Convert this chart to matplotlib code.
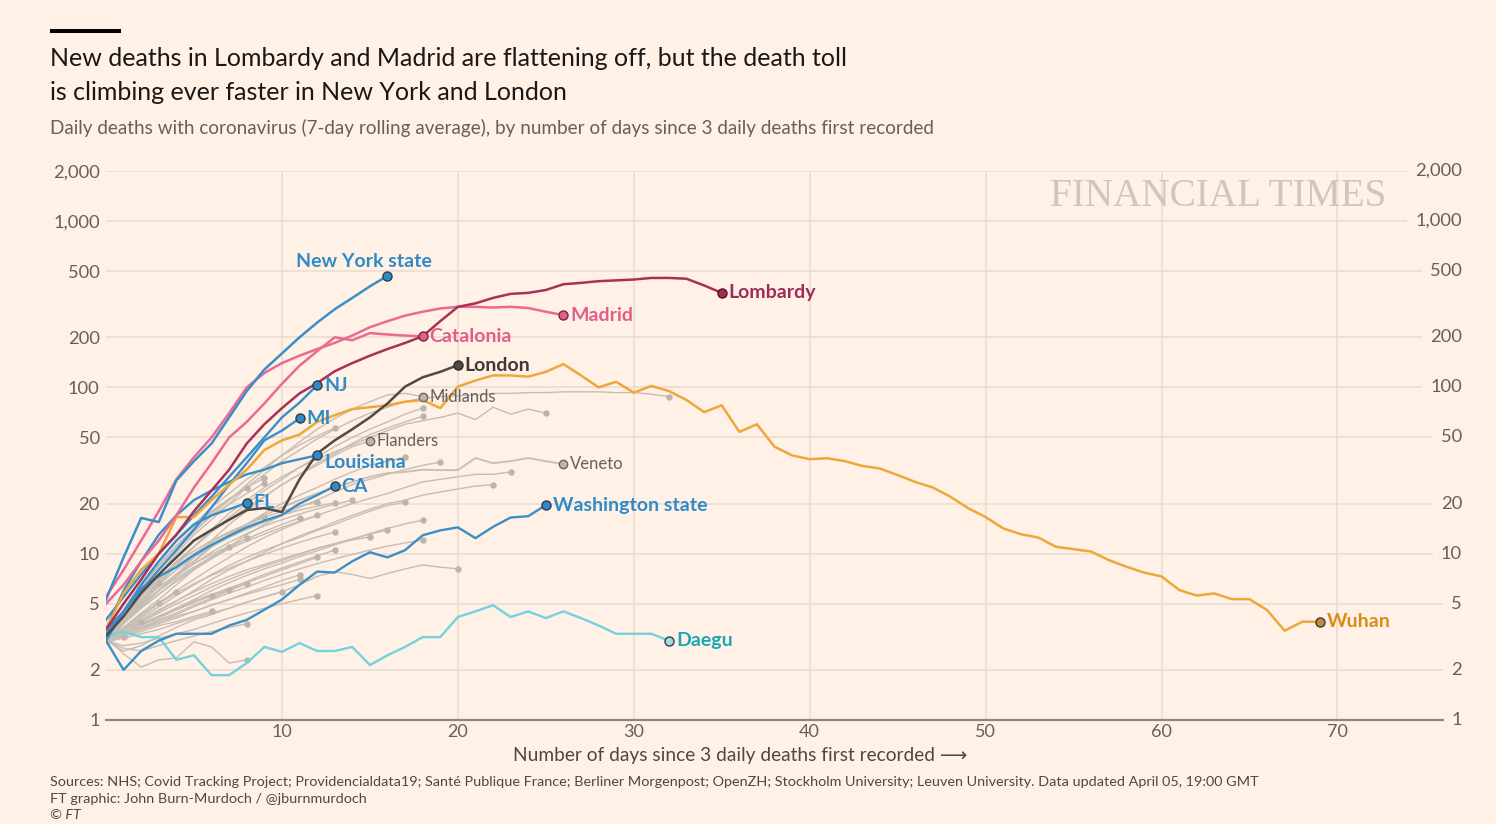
import matplotlib
matplotlib.use('Agg')
import matplotlib.pyplot as plt
from matplotlib.patches import Rectangle

# ---------------- data ----------------
new_york = [5.3, 9.5, 16.4, 15.5, 27.6, 36, 46, 66, 95, 128, 160, 200, 245, 295, 345, 405, 468]
new_jersey = [4, 5.5, 7.5, 10, 13, 17, 22, 29, 38, 50, 66, 81, 103]
michigan = [3.5, 4.5, 6, 8, 10.5, 14, 19, 26, 35, 48, 55, 65]
louisiana = [3.5, 6, 9, 13, 17, 21, 24, 27, 30, 32, 35, 37, 39]
california = [3.3, 4.5, 6.2, 7.3, 8.3, 9.8, 11.3, 12.8, 14.4, 15.8, 17.1, 20, 22.5, 25.5]
florida = [3, 4.5, 6.5, 9, 12, 15, 17, 18.5, 20.2]
washington = [3, 2.0, 2.6, 3.0, 3.3, 3.3, 3.3, 3.7, 4.0, 4.6, 5.3, 6.5, 7.8, 7.7, 9, 10.2,
              9.5, 10.5, 12.9, 13.8, 14.4, 12.4, 14.5, 16.5, 16.8, 19.6]
lombardy = [3.5, 5, 7, 10, 13, 18, 24, 32, 46, 60, 75, 92, 106, 125, 140, 155, 170, 185, 203,
            250, 305, 320, 345, 365, 370, 385, 417, 425, 435, 440, 445, 455, 455, 450, 410, 370]
madrid = [5.5, 8, 12, 18, 28, 38, 50, 70, 100, 122, 140, 155, 170, 185, 205, 230, 250, 270,
          285, 298, 305, 305, 302, 305, 300, 285, 272]
catalonia = [5, 6.5, 9, 12, 17, 25, 35, 50, 62, 80, 105, 135, 165, 200, 192, 212, 208, 205, 203]
london = [3.2, 4.2, 5.8, 7.5, 9.5, 12, 13.9, 16, 18.3, 18.8, 17.8, 28, 40, 48, 56, 66, 80,
          101, 115, 124, 136]
wuhan = [3.5, 5.8, 8, 10, 16.6, 16.6, 21, 26, 32, 42, 48, 52, 62, 68, 74, 76, 78, 82, 84, 75,
         101, 110, 118, 118, 116, 124, 138, 118, 100, 108, 93, 102, 95, 84, 71, 78, 54, 60, 44,
         39, 37, 37.5, 36, 33.7, 32.5, 29.7, 27, 25, 22, 18.8, 16.6, 14.2, 13.1, 12.5, 11,
         10.65, 10.3, 9.15, 8.35, 7.7, 7.3, 6.05, 5.6, 5.77, 5.33, 5.33, 4.58, 3.44, 3.9, 3.9]
daegu = [3.2, 3.4, 3.15, 3.15, 2.3, 2.45, 1.86, 1.86, 2.2, 2.75, 2.57, 2.9, 2.6, 2.6, 2.75,
         2.14, 2.45, 2.75, 3.15, 3.15, 4.16, 4.5, 4.9, 4.16, 4.5, 4.1, 4.5, 4.1, 3.7, 3.3, 3.3,
         3.3, 3.0]
midlands = [3, 4.2, 5.8, 8, 10.5, 13.5, 17, 21, 26, 32, 39, 47, 56, 65, 74, 82, 90, 92, 88]
flanders = [3, 4, 5.5, 7, 9, 11, 13.5, 16, 19, 22, 26, 30, 34, 39, 44, 47.6]
veneto = [3, 4, 5, 6, 7.5, 9, 11, 13, 15, 17, 19, 21, 23, 25, 27, 29, 30.5, 31, 32, 31.8, 31.8,
          37.6, 35, 36, 37.6, 36, 34.6]

other_regions = [
    [3, 4, 5.5, 7.5, 10, 13, 16, 20, 25, 30, 36, 42, 49, 56, 63, 70, 76, 82, 86, 88, 89, 90,
     92, 92, 93, 93, 94, 94, 94, 93, 93, 91, 88],
    [3, 4, 5, 6.5, 8.5, 11, 14, 17.5, 21, 25, 29, 33, 37, 41, 45, 50, 55, 60, 63, 66, 70, 64,
     76, 69, 74, 70],
    [3, 4, 5.2, 6.8, 8.8, 11, 13.5, 16.5, 20, 24, 28, 33, 38, 44, 50, 56, 62, 69, 75],
    [3, 3.8, 4.8, 6, 7.5, 9.5, 12, 15, 18, 22, 26, 30, 35, 40, 46, 52, 57, 62, 67],
    [3, 4.5, 6.5, 9, 12, 15, 19, 23, 28, 33, 39, 45, 51, 57],
    [3, 3.8, 4.8, 6, 7.5, 9, 11, 13, 15, 17.5, 20, 22.5, 25, 28, 31, 34, 36, 38],
    [3, 3.6, 4.4, 5.3, 6.5, 8, 9.5, 11, 13, 15, 17, 19, 21, 23.5, 26, 28, 30, 32, 34, 35.5],
    [3, 3.5, 4.2, 5, 6, 7, 8.2, 9.5, 11, 12.5, 14, 15.5, 17, 18.5, 20, 21.5, 23, 25, 27, 28,
     29, 30, 30, 31],
    [3, 3.4, 3.9, 4.5, 5.2, 6, 7, 8, 9, 10.2, 11.5, 12.8, 14, 15.5, 17, 18.5, 20, 21, 22.5,
     23.5, 24.5, 25.5, 26],
    [3, 3.5, 4.1, 4.8, 5.6, 6.5, 7.5, 8.5, 9.5, 10.5, 11.5, 12.5, 13.8, 15, 16.5, 18, 19.5, 20.4],
    [3, 3.3, 3.7, 4.2, 4.7, 5.3, 6, 6.7, 7.4, 8.1, 8.8, 9.6, 10.4, 11.3, 12.2, 13.2, 14.2, 15.1, 15.9],
    [3, 2.6, 2.8, 3.2, 3.6, 4, 4.3, 4.7, 5.1, 5.5, 5.9, 6.5, 7.3, 7.8, 7.5, 7.1, 7.6, 8.1, 8.55,
     8.3, 8.1],
    [3, 3.4, 3.9, 4.4, 5, 5.6, 6.3, 7, 7.7, 8.4, 9.1, 9.9, 10.7, 11.5, 12.3, 13.1, 13.9],
    [3, 3.5, 4, 4.6, 5.2, 5.9, 6.6, 7.3, 8, 8.6, 9.3, 10, 10.8, 11.5, 12.1, 12.6],
    [3, 3.2, 3.5, 3.9, 4.3, 4.8, 5.3, 5.8, 6.3, 6.9, 7.5, 8.1, 8.7, 9.3, 9.9, 10.5, 11.1, 11.6, 12.1],
    [3, 3.8, 4.8, 6, 7.3, 8.7, 10.2, 11.7, 13.2, 14.7, 16, 17.3, 18.6, 19.8, 21],
    [3, 4, 5.2, 6.5, 8, 9.5, 11, 12.5, 14, 15.5, 17, 18.3, 19.3, 20.2],
    [3, 4.2, 5.6, 7.2, 8.8, 10.4, 12, 13.5, 15, 16.5, 18, 19.3, 20.4],
    [3, 3.6, 4.3, 5, 5.8, 6.6, 7.4, 8.2, 9, 9.9, 10.8, 11.7, 12.6, 13.5],
    [3, 3.9, 4.9, 6, 7.1, 8.3, 9.5, 10.7, 11.9, 13.1, 14.4, 15.7, 17],
    [3, 4, 5.1, 6.3, 7.5, 8.7, 9.9, 11.1, 12.3, 13.6, 15, 16.4],
    [3, 3.4, 3.8, 4.2, 4.7, 5.2, 5.7, 6.2, 6.8, 7.5, 8.2, 8.9, 9.7, 10.5],
    [3, 3.3, 3.7, 4.1, 4.6, 5.1, 5.6, 6.1, 6.7, 7.3, 8, 8.7, 9.5],
    [3, 3.2, 3.5, 3.8, 4.1, 4.5, 4.9, 5.3, 5.8, 6.3, 6.9, 7.45],
    [3, 3.1, 3.3, 3.5, 3.8, 4.1, 4.4, 4.7, 5.1, 5.5, 5.9],
    [3, 2.8, 2.9, 3.1, 3.3, 3.5, 3.8, 4.1, 4.4, 4.7, 5, 5.3, 5.6],
    [3, 4, 5.3, 6.8, 8.4, 10, 11.7, 13.4, 15, 16.6],
    [3, 4.4, 6.2, 8.4, 11, 13.8, 16.8, 19.8, 23, 26.6],
    [3, 4.6, 6.6, 9, 11.8, 14.8, 18, 21.4, 25, 28.5],
    [3, 4.5, 6.4, 8.6, 11.2, 14.2, 17.6, 21.2, 25],
    [3, 3.8, 4.7, 5.7, 6.8, 8, 9.3, 10.8, 12.4],
    [3, 3.8, 4.7, 5.7, 6.9, 8.2, 9.6, 11],
    [3, 3.3, 3.6, 4, 4.4, 4.9, 5.4, 6, 6.6],
    [3, 2.7, 2.6, 2.8, 3, 3.2, 3.4, 3.6, 3.8],
    [3, 3.4, 3.8, 4.2, 4.6, 5.1, 5.6, 6.05],
    [3, 3.4, 3.8, 4.2, 4.6, 5.1, 5.6],
    [3, 3.2, 3.4, 3.7, 3.9, 4.2, 4.5],
    [3, 3.6, 4.3, 5.1, 5.9],
    [3, 4, 5.2, 6.65],
    [3, 3.6, 4.3, 5.05],
    [3, 4.3, 6.05],
    [3, 3.4, 3.9],
    [3.15, 2.5, 2.08, 2.3, 2.36, 2.95, 2.75, 2.2, 2.3],
    [3, 3.3, 3.6, 3.9, 4.2, 4.5, 4.9, 5.3, 5.7, 6.1, 6.5, 7],
    [2.9, 3.15],
]

y_ticks = [1, 2, 5, 10, 20, 50, 100, 200, 500, 1000, 2000]
y_tick_labels = ['1', '2', '5', '10', '20', '50', '100', '200', '500', '1,000', '2,000']
x_ticks = [10, 20, 30, 40, 50, 60, 70]

# ---------------- style ----------------
BG = '#FFF1E5'
GRID = '#E8DCD1'
TICK = '#66605C'
GRAY_LINE = '#C6BDB4'
GRAY_DOT = '#BDB4AB'
BLUE = '#3A8FC9'
BLUE_TXT = '#2E8BC8'
PINK = '#EA6A92'
PINK_TXT = '#E35D89'
CRIMSON = '#A8315A'
CRIMSON_TXT = '#A02C55'
LONDON = '#4F4A46'
ORANGE = '#EEA73B'
ORANGE_TXT = '#D98C18'
CYAN = '#72D3DE'
CYAN_TXT = '#1CA7B7'
EDGE = '#2f3b45'
FONT = ['Lato', 'DejaVu Sans']
LBL = 14

plt.rcParams['font.family'] = FONT

W, H = 1496, 824
fig = plt.figure(figsize=(W / 100, H / 100), dpi=100, facecolor=BG)
ax_left, ax_right, ax_top, ax_bottom = 106, 1443, 171, 720
ax = fig.add_axes([ax_left / W, 1 - ax_bottom / H, (ax_right - ax_left) / W, (ax_bottom - ax_top) / H])
ax.set_facecolor(BG)
ax.set_yscale('log')
ax.set_xlim(0, 76)
ax.set_ylim(1, 2000)

for s in ['top', 'right', 'left']:
    ax.spines[s].set_visible(False)
ax.spines['bottom'].set_color('#8E867F')
ax.spines['bottom'].set_linewidth(1.6)
ax.spines['bottom'].set_zorder(5)

ax.set_yticks(y_ticks)
ax.set_yticklabels(y_tick_labels)
ax.yaxis.set_minor_locator(matplotlib.ticker.NullLocator())
ax.set_xticks(x_ticks)
ax.set_xticklabels([str(t) for t in x_ticks])
ax.tick_params(axis='y', length=0, pad=4.5, labelsize=13.2, labelcolor=TICK)
ax.tick_params(axis='x', length=0, pad=3, labelsize=13, labelcolor=TICK)
ax.grid(True, which='major', color=GRID, linewidth=1.1)
ax.set_axisbelow(True)

# right-hand tick labels
for v, lab in zip(y_ticks, y_tick_labels):
    ax.text((1462 - ax_left) / (ax_right - ax_left), v, lab, transform=ax.get_yaxis_transform(),
            ha='right', va='center', fontsize=13.2, color=TICK, zorder=4, clip_on=False,
            bbox=dict(boxstyle='square,pad=0.45', fc=BG, ec='none'))

# gray background regions
for vals in other_regions:
    days = list(range(len(vals)))
    ax.plot(days, vals, color=GRAY_LINE, lw=1.0, zorder=2, solid_capstyle='round')
    ax.plot(days[-1], vals[-1], 'o', ms=4.6, color=GRAY_DOT, mec='none', zorder=2.1)

def labelled(vals, color, lw, label, txtcolor, weight, size, mfc, mec, ms, dx=5, dy=0,
             ha='left', z=3):
    days = list(range(len(vals)))
    ax.plot(days, vals, color=color, lw=lw, zorder=z, solid_joinstyle='round')
    ax.plot(days[-1], vals[-1], 'o', ms=ms, mfc=mfc, mec=mec, mew=1.0, zorder=z + 0.5)
    ax.annotate(label, (days[-1], vals[-1]), xytext=(dx, dy), textcoords='offset points',
                ha=ha, va='center', color=txtcolor, fontsize=size, fontweight=weight,
                zorder=z + 1)

# gray labelled
labelled(midlands, GRAY_LINE, 1.0, 'Midlands', TICK, 'normal', 12, '#BEB5AC', '#6B645E', 6)
labelled(flanders, GRAY_LINE, 1.0, 'Flanders', TICK, 'normal', 12, '#BEB5AC', '#6B645E', 6)
labelled(veneto, GRAY_LINE, 1.3, 'Veneto', TICK, 'normal', 12, '#BEB5AC', '#6B645E', 6)

# highlighted
labelled(daegu, CYAN, 1.7, 'Daegu', CYAN_TXT, 'bold', LBL, '#9FDCE4', EDGE, 6.5)
labelled(washington, BLUE, 1.7, 'Washington state', BLUE_TXT, 'bold', LBL, BLUE_TXT, EDGE, 6.5)
labelled(florida, BLUE, 1.7, 'FL', BLUE_TXT, 'bold', LBL, BLUE_TXT, EDGE, 6.5)
labelled(california, BLUE, 1.7, 'CA', BLUE_TXT, 'bold', LBL, BLUE_TXT, EDGE, 6.5)
labelled(louisiana, BLUE, 1.7, 'Louisiana', BLUE_TXT, 'bold', LBL, BLUE_TXT, EDGE, 6.5, dy=-5)
labelled(michigan, BLUE, 1.7, 'MI', BLUE_TXT, 'bold', LBL, BLUE_TXT, EDGE, 6.5)
labelled(new_jersey, BLUE, 1.7, 'NJ', BLUE_TXT, 'bold', LBL, BLUE_TXT, EDGE, 6.5)
labelled(wuhan, ORANGE, 1.8, 'Wuhan', ORANGE_TXT, 'bold', LBL, '#C98A2E', EDGE, 6.5)
labelled(london, LONDON, 1.8, 'London', '#3D3936', 'bold', LBL, LONDON, '#2a2725', 6.5)
labelled(catalonia, PINK, 1.8, 'Catalonia', PINK_TXT, 'bold', LBL, PINK_TXT, '#6d2a40', 6.5)
labelled(madrid, PINK, 1.8, 'Madrid', PINK_TXT, 'bold', LBL, PINK_TXT, '#6d2a40', 6.5)
labelled(lombardy, CRIMSON, 1.8, 'Lombardy', CRIMSON_TXT, 'bold', LBL, CRIMSON_TXT, '#4a1426', 6.5)
labelled(new_york, BLUE, 1.8, 'New York state', BLUE_TXT, 'bold', LBL, BLUE_TXT, EDGE, 6.5,
         dx=-17, dy=10.5, ha='center')

# watermark
ax.text((1218 - ax_left) / (ax_right - ax_left), 1 - (197 - ax_top) / (ax_bottom - ax_top),
        'FINANCIAL TIMES', transform=ax.transAxes, ha='center', va='center',
        fontsize=28.3, color='#CFC6BD', family=['Liberation Serif', 'DejaVu Serif'], zorder=1)

# x-axis label
fig.text(740 / W, 1 - 755 / H, 'Number of days since 3 daily deaths first recorded \u27f6',
         ha='center', va='center', fontsize=13.8, color='#4D4845', family=FONT)

# header
fig.patches.append(Rectangle((50 / W, 1 - 33 / H), 71 / W, 4 / H, transform=fig.transFigure,
                             facecolor='#000000', edgecolor='none'))
fig.text(50 / W, 1 - 59 / H, 'New deaths in Lombardy and Madrid are flattening off, but the death toll',
         ha='left', va='center', fontsize=18, color='#1A1817')
fig.text(50 / W, 1 - 92 / H, 'is climbing ever faster in New York and London',
         ha='left', va='center', fontsize=18, color='#1A1817')
fig.text(50 / W, 1 - 128 / H,
         'Daily deaths with coronavirus (7-day rolling average), by number of days since 3 daily deaths first recorded',
         ha='left', va='center', fontsize=13.6, color=TICK)

# footer
fig.text(50 / W, 1 - 782 / H,
         'Sources: NHS; Covid Tracking Project; Providencialdata19; Sant\u00e9 Publique France; Berliner Morgenpost; '
         'OpenZH; Stockholm University; Leuven University. Data updated April 05, 19:00 GMT',
         ha='left', va='center', fontsize=10.4, color='#4D4845')
fig.text(50 / W, 1 - 799 / H, 'FT graphic: John Burn-Murdoch / @jburnmurdoch',
         ha='left', va='center', fontsize=10.4, color='#4D4845')
fig.text(50 / W, 1 - 815 / H, '\u00a9 FT', ha='left', va='center', fontsize=10.4,
         color='#4D4845', style='italic')

fig.savefig('out.png', dpi=100, facecolor=BG)
